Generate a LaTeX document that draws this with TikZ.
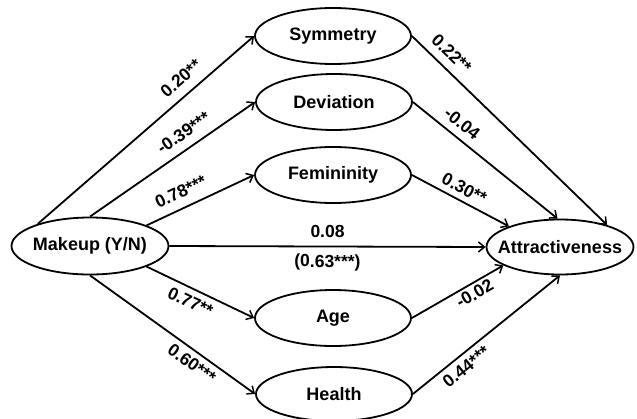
\documentclass[tikz,border=0pt]{standalone}
\usepackage{fontspec}
\setmainfont{Liberation Sans}
\usetikzlibrary{shapes.geometric,arrows.meta}
\tikzset{
  var/.style={ellipse, draw, line width=1.8pt, inner sep=0pt, minimum width=156pt, minimum height=56pt,
    font=\fontsize{18}{20}\selectfont\bfseries},
  conn/.style={line width=1.8pt, -{Straight Barb[length=6pt,width=10pt,line width=1.5pt]}},
  lab/.style={font=\fontsize{17.5}{19}\selectfont\bfseries, inner sep=1pt, sloped}
}
\newcommand{\vtext}[1]{\makebox[0pt]{#1}}
\begin{document}
\begin{tikzpicture}[x=1pt,y=-1pt]
\useasboundingbox (0,0) rectangle (637,418);
\node[var, minimum width=157pt, minimum height=57pt] (mk) at (90,246) {\vtext{Makeup (Y/N)}};
\node[var] (sym) at (333,36) {\vtext{Symmetry}};
\node[var] (dev) at (334,102) {\vtext{Deviation}};
\node[var] (fem) at (333,175) {\vtext{Femininity}};
\node[var] (age) at (333,318) {\vtext{Age}};
\node[var, minimum height=54pt] (hea) at (334,394) {\vtext{Health}};
\node[var, minimum width=147pt, minimum height=55pt] (att) at (560,247) {\vtext{Attractiveness}};

\draw[conn] (mk.157) -- node[lab, pos=.71, above=8pt] {0.20**} (sym.west);
\draw[conn] (mk.north) -- node[lab, pos=.62, above=7.5pt] {-0.39***} (dev.west);
\draw[conn] (mk.20) -- node[lab, pos=.38, above=8pt] {0.78***} (fem.west);
\draw[conn] (mk.-20) -- node[lab, pos=.46, below=5pt] {0.77**} (age.west);
\draw[conn] (mk.south) -- node[lab, pos=.66, below=4pt] {0.60***} (hea.west);
\draw[conn] (mk.east) -- node[lab, pos=.5, above=7pt] {0.08}
                         node[lab, pos=.5, below=6pt] {(0.63***)} (att.west);

\draw[conn] (sym.east) -- node[lab, pos=.15, above=7pt] {0.22**} (att.25);
\draw[conn] (dev.east) -- node[lab, pos=.28, above=6pt] {-0.04} (att.95);
\draw[conn] (fem.east) -- node[lab, pos=.48, above=4.5pt] {0.30**} (att.158);
\draw[conn] (age.east) -- node[lab, pos=.63, below=2pt] {-0.02} (att.198);
\draw[conn] (hea.east) -- node[lab, pos=.31, below=4pt] {0.44***} (att.south);
\end{tikzpicture}
\end{document}
